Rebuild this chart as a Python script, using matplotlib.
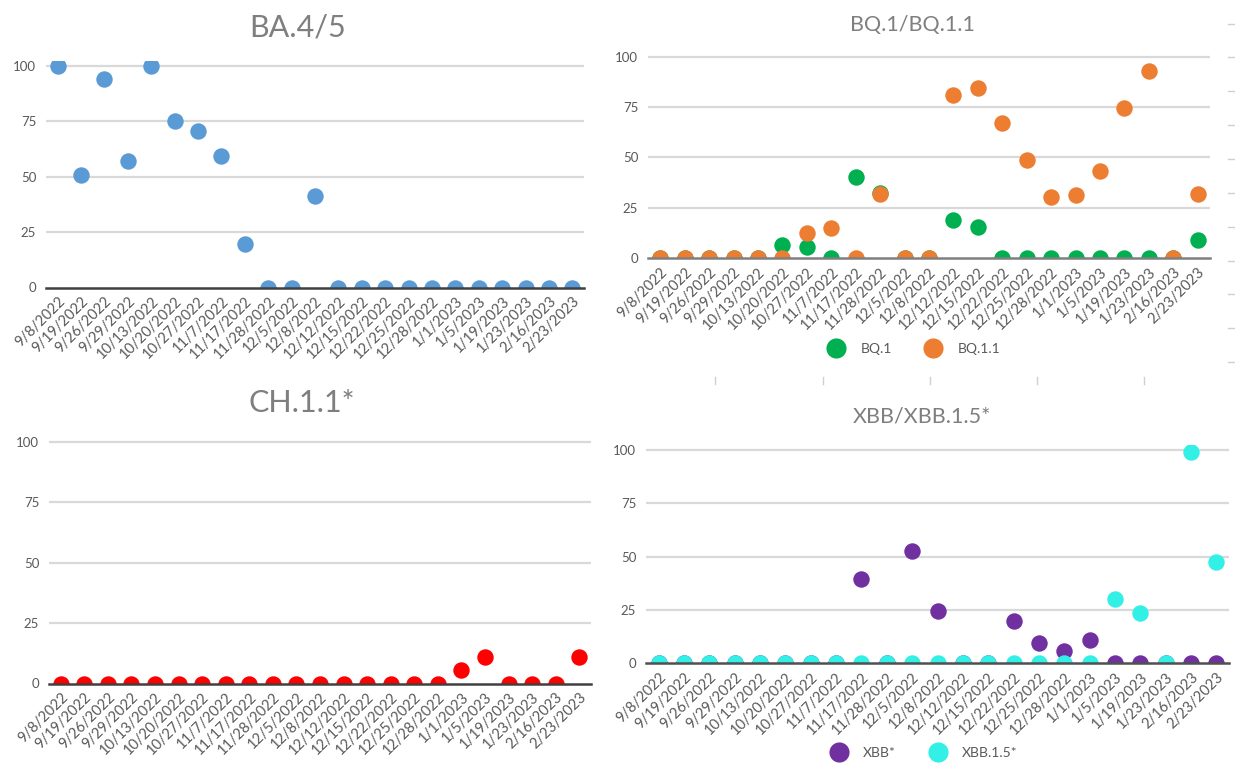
import matplotlib
matplotlib.use("Agg")
import matplotlib.pyplot as plt
from matplotlib.lines import Line2D
import numpy as np

plt.rcParams['font.family'] = ['Lato', 'DejaVu Sans']

dates = ["9/8/2022", "9/19/2022", "9/26/2022", "9/29/2022", "10/13/2022", "10/20/2022",
         "10/27/2022", "11/7/2022", "11/17/2022", "11/28/2022", "12/5/2022", "12/8/2022",
         "12/12/2022", "12/15/2022", "12/22/2022", "12/25/2022", "12/28/2022", "1/1/2023",
         "1/5/2023", "1/19/2023", "1/23/2023", "2/16/2023", "2/23/2023"]

ba45 = [100, 51, 94, 57, 100, 75, 70.5, 59.5, 19.5, 0, 0, 41.5,
        0, 0, 0, 0, 0, 0, 0, 0, 0, 0, 0]
bq1 = [0, 0, 0, 0, 0, 6.5, 5.5, 0, 40.3, 32.5, 0, 0,
       18.9, 15.4, 0, 0, 0, 0, 0, 0, 0, 0, 9]
bq11 = [0, 0, 0, 0, 0, 0, 12.4, 14.9, 0, 31.8, 0, 0,
        81, 84.6, 67, 48.8, 30.3, 31.3, 43.5, 74.6, 93, 0, 31.8]
ch11 = [0, 0, 0, 0, 0, 0, 0, 0, 0, 0, 0, 0,
        0, 0, 0, 0, 0, 5.6, 11, 0, 0, 0, 11]
xbb = [0, 0, 0, 0, 0, 0, 0, 0, 39.4, 0, 52.6, 24.6,
       0, 0, 19.7, 9.4, 5.8, 10.8, 0, 0, 0, 0, 0]
xbb15 = [0, 0, 0, 0, 0, 0, 0, 0, 0, 0, 0, 0,
         0, 0, 0, 0, 0, 0, 30, 23.5, 0, 99, 47.4]

yticks = [0, 25, 50, 75, 100]

W, H = 1235, 763
fig = plt.figure(figsize=(W / 100, H / 100), dpi=100)
fig.patch.set_facecolor('white')


def make_ax(x0, x1, ytop, ybot, y100):
    ax = fig.add_axes([x0 / W, 1 - ybot / H, (x1 - x0) / W, (ybot - ytop) / H])
    unit = (ybot - y100) / 100.0
    top = (ybot - ytop) / unit
    ax.set_ylim(0, top)
    ax.set_xlim(-0.5, len(dates) - 0.5)
    for s in ax.spines.values():
        s.set_visible(False)
    ax.set_yticks(yticks)
    ax.set_yticklabels([str(v) for v in yticks])
    ax.set_xticks(np.arange(len(dates)))
    ax.set_xticklabels(dates, rotation=45, ha='right', rotation_mode='anchor')
    ax.tick_params(axis='both', length=0, labelcolor='#595959')
    ax.tick_params(axis='x', labelsize=10.5, pad=5)
    ax.tick_params(axis='y', labelsize=9.5, pad=7)
    for v in yticks[1:]:
        ax.axhline(v, color='#d9d9d9', lw=1.6, zorder=1)
    return ax


def zero_line(ax, color):
    ax.axhline(0, color=color, lw=1.8, zorder=5, clip_on=False)


ms = 140
idx = np.arange(len(dates))

# Top-left: BA.4/5
ax1 = make_ax(46, 584, 61, 287.5, 66)
ax1.scatter(idx, ba45, s=ms, color='#5b9bd5', zorder=3, linewidths=0)
zero_line(ax1, '#404040')
fig.text(298 / W, 1 - 28 / H, "BA.4/5", ha='center', va='center', fontsize=22, color='#7f7f7f')

# Top-right: BQ.1/BQ.1.1
ax2 = make_ax(648, 1210, 52, 258, 57)
ax2.scatter(idx, bq1, s=ms, color='#00b050', zorder=3, linewidths=0, label='BQ.1')
ax2.scatter(idx, bq11, s=ms, color='#ed7d31', zorder=4, linewidths=0, label='BQ.1.1')
zero_line(ax2, '#7f7f7f')
fig.text(912 / W, 1 - 25 / H, "BQ.1/BQ.1.1", ha='center', va='center', fontsize=15.5, color='#7f7f7f')
h2 = [Line2D([], [], marker='o', ls='', markersize=14.5, color='#00b050', markeredgewidth=0),
      Line2D([], [], marker='o', ls='', markersize=14.5, color='#ed7d31', markeredgewidth=0)]
leg2 = ax2.legend(h2, ['BQ.1', 'BQ.1.1'], loc='center', bbox_to_anchor=(914 / W, 1 - 349 / H),
                  bbox_transform=fig.transFigure, ncol=2, frameon=False, fontsize=10,
                  handletextpad=1.15, columnspacing=2.4, handlelength=1.2)
for t in leg2.get_texts():
    t.set_color('#595959')

# Bottom-left: CH.1.1*
ax3 = make_ax(49, 591, 436.5, 683.5, 442)
ax3.scatter(idx, ch11, s=ms, color='#ff0000', zorder=3, linewidths=0)
zero_line(ax3, '#404040')
fig.text(302 / W, 1 - 403 / H, "CH.1.1*", ha='center', va='center', fontsize=22, color='#7f7f7f')

# Bottom-right: XBB/XBB.1.5*
ax4 = make_ax(646, 1229, 445, 663, 450)
ax4.scatter(idx, xbb, s=ms, color='#7030a0', zorder=3, linewidths=0)
ax4.scatter(idx, xbb15, s=ms, color='#33f0e6', zorder=4, linewidths=0)
zero_line(ax4, '#505050')
fig.text(922 / W, 1 - 416 / H, "XBB/XBB.1.5*", ha='center', va='center', fontsize=15.5, color='#7f7f7f')
h4 = [Line2D([], [], marker='o', ls='', markersize=14.5, color='#7030a0', markeredgewidth=0),
      Line2D([], [], marker='o', ls='', markersize=14.5, color='#33f0e6', markeredgewidth=0)]
leg4 = ax4.legend(h4, ['XBB*', 'XBB.1.5*'], loc='center', bbox_to_anchor=(924 / W, 1 - 753 / H),
                  bbox_transform=fig.transFigure, ncol=2, frameon=False, fontsize=10,
                  handletextpad=1.15, columnspacing=2.4, handlelength=1.2)
for t in leg4.get_texts():
    t.set_color('#595959')

# faint tick artifacts of an underlying chart
for yy in [24, 57, 91, 125, 159, 193, 227, 261, 294, 328, 362]:
    fig.add_artist(Line2D([1228 / W, 1235 / W], [1 - yy / H, 1 - yy / H],
                          transform=fig.transFigure, color='#d0d0d0', lw=1))
for xx in [715, 823, 930, 1037, 1144]:
    fig.add_artist(Line2D([xx / W, xx / W], [1 - 377 / H, 1 - 384 / H],
                          transform=fig.transFigure, color='#d0d0d0', lw=1))

fig.savefig("out.png", dpi=100, facecolor='white')
